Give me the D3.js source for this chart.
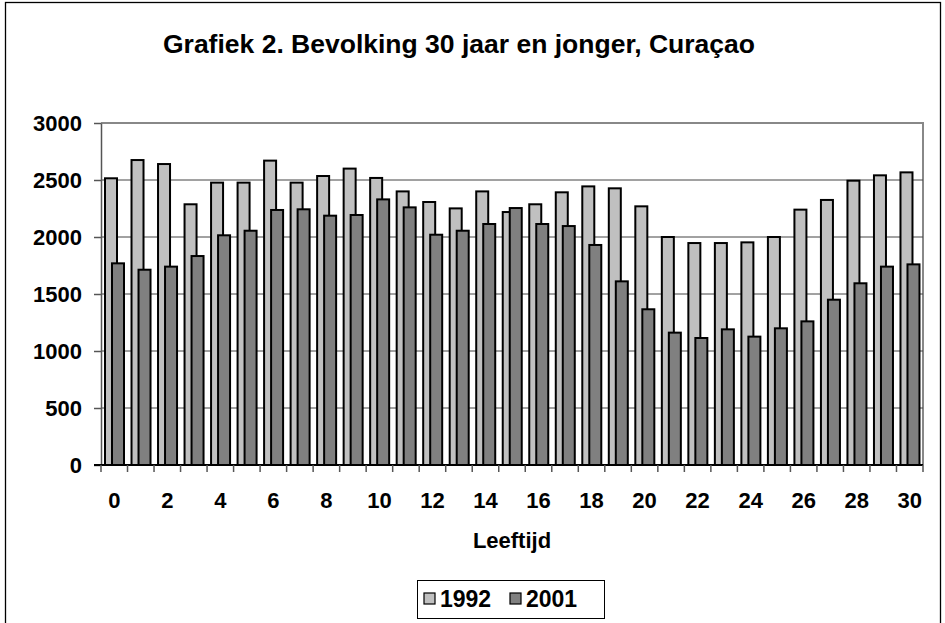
<!DOCTYPE html>
<html>
<head>
<meta charset="utf-8">
<script src="https://cdn.jsdelivr.net/npm/d3@7"></script>
<style>
body{margin:0;background:#fff;}
text{font-family:Arial,"Liberation Sans",sans-serif;font-weight:bold;}
</style>
</head>
<body>
<main></main>
<script>
// leeftijd 0..30
var ages = d3.range(0, 31);
var pop1992 = [2515,2675,2640,2287,2477,2477,2670,2477,2535,2600,2518,2400,2307,2251,2400,2219,2287,2392,2444,2427,2269,2000,1947,1947,1953,2000,2240,2325,2494,2541,2567];
var pop2001 = [1769,1713,1740,1833,2015,2055,2237,2243,2187,2193,2330,2260,2020,2055,2114,2254,2114,2096,1930,1611,1366,1161,1114,1190,1126,1199,1260,1450,1594,1740,1760];
var yTicks = [0,500,1000,1500,2000,2500,3000];
var xLabels = ages.filter(d => d % 2 == 0);
var seriesNames = ["1992","2001"];
var seriesColors = ["#c0c0c0","#808080"];

createChart();

function createChart(){
    var width = 945, height = 623;
    var left = 101, right = 923, top = 123, bottom = 465;

    var svg = d3.select("main")
    .append("svg")
    .attr("width", width)
    .attr("height", height)

    // outer frame (bottom edge is cut off)
    svg.append("rect")
    .attr("x", 5.5).attr("y", 2.5)
    .attr("width", 935).attr("height", 640)
    .style("fill","none").style("stroke","#000").style("stroke-width",1.3)

    svg.append("text")
    .attr("x", 459).attr("y", 53)
    .attr("text-anchor","middle")
    .style("font-size","26.5px")
    .text("Grafiek 2. Bevolking 30 jaar en jonger, Curaçao");

    const xScale = d3.scaleBand()
    .domain(ages)
    .range([left, right])
    .padding(0)

    const yScale = d3.scaleLinear()
    .domain([0,3000])
    .range([bottom, top])

    // plot area border (top/right)
    svg.append("path")
    .attr("d", "M"+left+","+top+"H"+right+"V"+bottom)
    .style("fill","none").style("stroke","#888").style("stroke-width",2)

    // gridlines
    svg.selectAll(".grid")
    .data(yTicks.filter(d => d > 0 && d < 3000))
    .enter()
    .append("line")
    .attr("class","grid")
    .attr("x1", left).attr("x2", right)
    .attr("y1", d => yScale(d)).attr("y2", d => yScale(d))
    .style("stroke","#444").style("stroke-width",1)

    var y_axis = d3.axisLeft(yScale)
    .tickValues(yTicks)
    .tickFormat(d3.format("d"))
    .tickSize(7)
    .tickSizeOuter(0)
    .tickPadding(12);

    var gy = svg.append("g")
    .attr("id","y-axis")
    .attr("transform","translate(" + left + ",0)")
    .call(y_axis);
    gy.selectAll("text").style("font-size","22px").attr("fill","#000");
    gy.selectAll("line,path").style("stroke","#555").style("stroke-width",1.5);

    // x axis: ticks on category boundaries
    var boundaries = ages.map(d => xScale(d)).concat([right]);
    svg.append("line")
    .attr("x1", left - 7).attr("x2", right)
    .attr("y1", bottom).attr("y2", bottom)
    .style("stroke","#000").style("stroke-width",2)
    svg.selectAll(".xtick")
    .data(boundaries)
    .enter()
    .append("line")
    .attr("class","xtick")
    .attr("x1", d => d).attr("x2", d => d)
    .attr("y1", bottom).attr("y2", bottom + 7)
    .style("stroke","#555").style("stroke-width",1.5)

    svg.selectAll(".xlab")
    .data(xLabels)
    .enter()
    .append("text")
    .attr("class","xlab")
    .attr("x", d => xScale(d) + xScale.bandwidth()/2)
    .attr("y", 508)
    .attr("text-anchor","middle")
    .style("font-size","22px")
    .text(d => d);

    svg.append("text")
    .attr("x", 512).attr("y", 548)
    .attr("text-anchor","middle")
    .style("font-size","22px")
    .text("Leeftijd");

    var barW = 12, offset = 7, pad = 4;
    [pop1992, pop2001].forEach((vals, s) => {
        svg.selectAll(".bar" + s)
        .data(vals)
        .enter()
        .append("rect")
        .attr("class","bar" + s)
        .attr("x", (d,i) => xScale(ages[i]) + pad + s*offset)
        .attr("y", d => yScale(d))
        .attr("width", barW)
        .attr("height", d => bottom - yScale(d))
        .style("fill", seriesColors[s])
        .style("stroke","#000")
        .style("stroke-width",2)
    });

    // legend
    var lg = svg.append("g").attr("transform","translate(417,580)");
    lg.append("rect")
    .attr("x",0.5).attr("y",0.5).attr("width",187).attr("height",38)
    .style("fill","#fff").style("stroke","#000").style("stroke-width",1)
    seriesNames.forEach((n, i) => {
        var gx = 7 + i*86;
        lg.append("rect")
        .attr("x", gx).attr("y", 13).attr("width", 11).attr("height", 11)
        .style("fill", seriesColors[i]).style("stroke","#000").style("stroke-width",1.2)
        lg.append("text")
        .attr("x", gx + 16).attr("y", 27)
        .style("font-size","23px")
        .text(n);
    });
}
</script>
</body>
</html>
